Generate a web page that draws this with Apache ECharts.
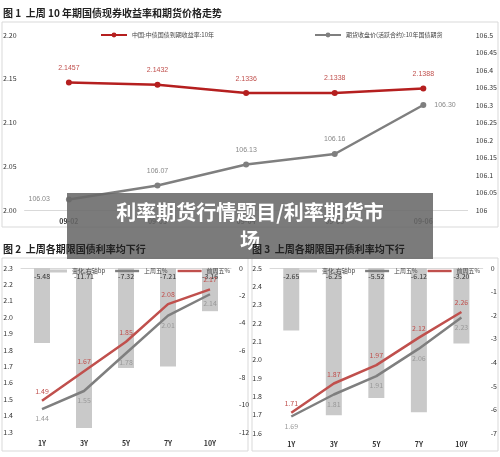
<!DOCTYPE html><html><head><meta charset="utf-8"><script src="https://cdn.jsdelivr.net/npm/echarts@6/dist/echarts.min.js"></script>
<style>body{margin:0}#c{width:500px;height:457px}</style></head><body><div id="c"></div><script>
const dates=['09-02','09-03','09-04','09-05','09-06'];
const yield10=[2.1457,2.1432,2.1336,2.1338,2.1388];
const fut10=[106.03,106.07,106.13,106.16,106.30];
const tenors=['1Y','3Y','5Y','7Y','10Y'];
const govChg=[-5.48,-11.71,-7.32,-7.21,-3.16];
const govLast=[1.44,1.55,1.78,2.01,2.14];
const govPrev=[1.49,1.67,1.85,2.08,2.17];
const cdbChg=[-2.65,-6.25,-5.52,-6.12,-3.20];
const cdbLast=[1.69,1.81,1.91,2.06,2.23];
const cdbPrev=[1.71,1.87,1.97,2.12,2.26];
const F='"Noto Sans CJK SC",sans-serif';
const RED='#b51f1f',GRAY='#7f7f7f',BAR='#c9c9c9';
const ax={axisLine:{show:false},axisTick:{show:false},splitLine:{show:false},axisLabel:{fontSize:7,color:'#333',fontFamily:F}};
const cat=(g)=>({type:'category',gridIndex:g,data:g?tenors:dates,axisTick:{show:false},axisLine:{lineStyle:{color:'#d9d9d9'}},axisLabel:{fontSize:7,color:'#333',fontFamily:F,fontWeight:'bold'}});
const lbl=(c,pos)=>({show:true,position:pos,distance:6,fontSize:7,color:c,fontFamily:F,formatter:p=>p.value.toFixed(2)});
function trio(g,chg,last,prev){
 return [
  {name:'变化,右轴bp',type:'bar',xAxisIndex:g,yAxisIndex:g*2+1,data:chg,barWidth:16,itemStyle:{color:BAR},label:{show:true,position:'insideTop',fontSize:7,color:'#333',fontFamily:F,formatter:p=>p.value.toFixed(2)}},
  {name:'上周五%',type:'line',xAxisIndex:g,yAxisIndex:g*2,data:last,symbol:'circle',symbolSize:0.1,lineStyle:{color:GRAY,width:2.5},itemStyle:{color:GRAY},label:lbl('#999','bottom')},
  {name:'前周五%',type:'line',xAxisIndex:g,yAxisIndex:g*2,data:prev,symbol:'circle',symbolSize:0.1,lineStyle:{color:'#c0504d',width:2.5},itemStyle:{color:'#c0504d'},label:lbl('#c0504d','top')}
 ];
}
const gl={fontSize:6,color:'#444',fontFamily:F};
const LINEICON='path://M0,0H30V3H0Z';
const leg2=(x)=>({left:x,top:263,itemWidth:24,itemHeight:3,itemGap:10,textStyle:gl,selectedMode:false,data:[{name:'变化,右轴bp',icon:'rect',itemStyle:{color:BAR}},{name:'上周五%',icon:LINEICON},{name:'前周五%',icon:LINEICON}]});
const opt={animation:false,
 legend:[
  {left:95,top:27,itemWidth:26,itemHeight:6,itemGap:100,textStyle:gl,data:['中国:中债国债到期收益率:10年','期货收盘价(活跃合约):10年国债期货']},
  leg2(38),leg2(288)
 ],
 grid:[{left:24,width:446,top:35,height:175},{left:21,width:210,top:268,height:164},{left:270,width:214,top:268,height:165}],
 xAxis:[cat(0),cat(1),cat(2)],
 yAxis:[
  Object.assign({type:'value',gridIndex:0,min:2.0,max:2.2,interval:0.05,position:'left'},ax,{axisLabel:Object.assign({},ax.axisLabel,{formatter:v=>v.toFixed(2)})}),
  Object.assign({type:'value',gridIndex:0,min:106,max:106.5,interval:0.05,position:'right'},ax,{axisLabel:Object.assign({},ax.axisLabel,{formatter:v=>+v.toFixed(2)+''})}),
  Object.assign({type:'value',gridIndex:1,min:1.3,max:2.3,interval:0.1,position:'left'},ax,{axisLabel:Object.assign({},ax.axisLabel,{formatter:v=>v.toFixed(1)})}),
  Object.assign({type:'value',gridIndex:1,min:-12,max:0,interval:2,position:'right'},ax),
  Object.assign({type:'value',gridIndex:2,min:1.6,max:2.5,interval:0.1,position:'left'},ax,{axisLabel:Object.assign({},ax.axisLabel,{formatter:v=>v.toFixed(1)})}),
  Object.assign({type:'value',gridIndex:2,min:-7,max:0,interval:1,position:'right'},ax)
 ],
 series:[
  {name:'中国:中债国债到期收益率:10年',type:'line',xAxisIndex:0,yAxisIndex:0,data:yield10,symbol:'circle',symbolSize:6,lineStyle:{color:RED,width:2.5},itemStyle:{color:RED},label:{show:true,position:'top',distance:8,fontSize:7,color:'#c0504d',formatter:p=>p.value.toFixed(4)}},
  {name:'期货收盘价(活跃合约):10年国债期货',type:'line',xAxisIndex:0,yAxisIndex:1,data:fut10.map((v,i)=>({value:v,label:{position:i==0?'left':i==4?'right':'top',distance:i==0?16:8}})),symbol:'circle',symbolSize:6,lineStyle:{color:GRAY,width:2.5},itemStyle:{color:GRAY},label:{show:true,fontSize:7,color:'#888',formatter:p=>p.value.toFixed(2)}},
  ...trio(1,govChg,govLast,govPrev),...trio(2,cdbChg,cdbLast,cdbPrev)
 ],
 graphic:[
  {type:'rect',shape:{x:2,y:22,width:496,height:205},style:{fill:'none',stroke:'#d9d9d9'}},
  {type:'rect',shape:{x:2,y:258,width:246,height:193},style:{fill:'none',stroke:'#d9d9d9'}},
  {type:'rect',shape:{x:252,y:258,width:246,height:193},style:{fill:'none',stroke:'#d9d9d9'}},
  {type:'text',left:3,top:8,style:{text:'图 1  上周 10 年期国债现券收益率和期货价格走势',font:'bold 10px '+F,fill:'#222'}},
  {type:'text',z:102,left:3,top:244,style:{text:'图 2  上周各期限国债利率均下行',font:'bold 10px '+F,fill:'#222'}},
  {type:'text',z:102,left:252,top:244,style:{text:'图 3  上周各期限国开债利率均下行',font:'bold 10px '+F,fill:'#222'}},
  {type:'rect',z:100,shape:{x:67,y:193,width:366,height:66},style:{fill:'rgba(105,105,105,0.88)'}},
  {type:'text',z:101,x:250,y:198,style:{text:'利率期货行情题目/利率期货市\n场',align:'center',verticalAlign:'top',lineHeight:28,font:'bold 20px '+F,fill:'#fff'}}
 ]
};
echarts.init(document.getElementById('c')).setOption(opt);
</script></body></html>
